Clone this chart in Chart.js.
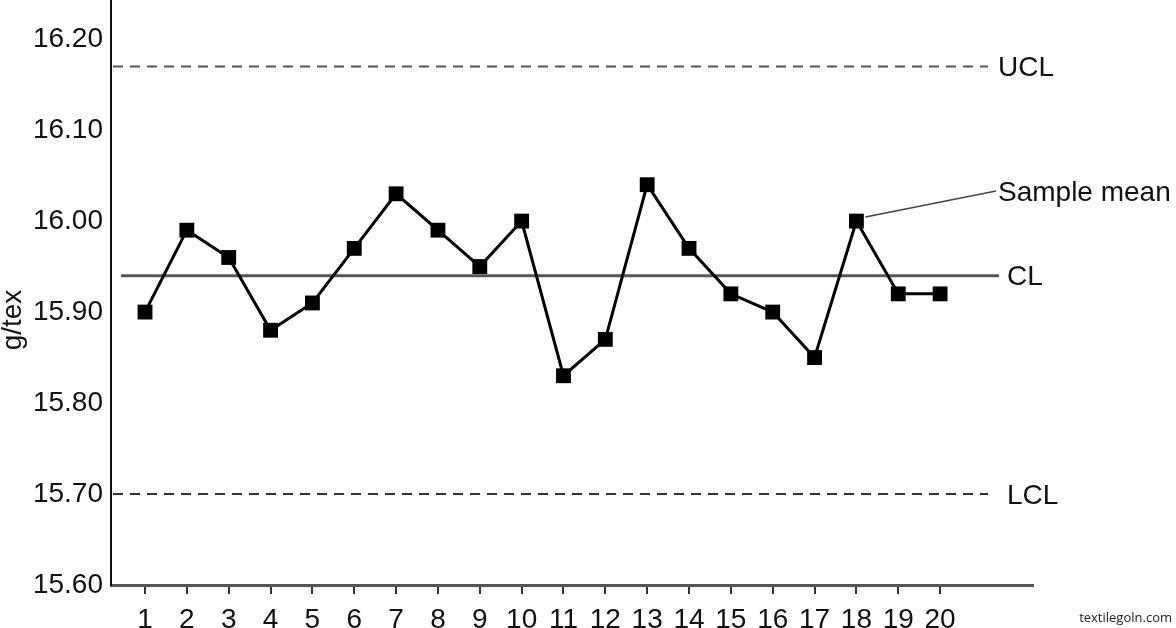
<!DOCTYPE html>
<html>
<head>
<meta charset="utf-8">
<style>
  html, body { margin: 0; padding: 0; background: #fff; }
</style>
<script src="https://cdn.jsdelivr.net/npm/chart.js@4.4.1/dist/chart.umd.min.js"></script>
</head>
<body>
<canvas id="chart" width="1176" height="628"></canvas>

<script>
  // Sample numbers on the x axis
  const samples = [1, 2, 3, 4, 5, 6, 7, 8, 9, 10, 11, 12, 13, 14, 15, 16, 17, 18, 19, 20];
  // Sample means (g/tex)
  const sampleMeans = [15.90, 15.99, 15.96, 15.88, 15.91, 15.97, 16.03, 15.99, 15.95, 16.00,
                       15.83, 15.87, 16.04, 15.97, 15.92, 15.90, 15.85, 16.00, 15.92, 15.92];
  // Control limits
  const limitNames = ['UCL', 'CL', 'LCL'];
  const limitValues = [16.17, 15.94, 15.70];
  // Tick labels on the y axis
  const yTicks = [15.60, 15.70, 15.80, 15.90, 16.00, 16.10, 16.20];

  const FONT = '"Liberation Sans", Arial, Helvetica, sans-serif';

  // Draws the control lines, their labels and the other annotations
  const controlLines = {
    id: 'controlLines',
    beforeDatasetsDraw(chart) {
      const { ctx, chartArea, scales: { y } } = chart;
      limitNames.forEach((name, i) => {
        const py = y.getPixelForValue(limitValues[i]);
        ctx.save();
        ctx.beginPath();
        if (name === 'CL') {
          ctx.strokeStyle = '#555';
          ctx.lineWidth = 3;
          ctx.moveTo(chartArea.left + 10, py);
          ctx.lineTo(chartArea.right - 34, py);
        } else {
          ctx.strokeStyle = name === 'UCL' ? '#555' : '#333';
          ctx.lineWidth = 2;
          ctx.setLineDash([10, 7]);
          ctx.moveTo(chartArea.left + 2, py);
          ctx.lineTo(chartArea.right - 45, py);
        }
        ctx.stroke();
        ctx.restore();
      });
    },
    afterDraw(chart) {
      const { ctx, chartArea, scales: { y } } = chart;
      ctx.save();
      ctx.fillStyle = '#111';
      ctx.font = '28px ' + FONT;
      ctx.textBaseline = 'middle';
      ctx.textAlign = 'left';
      limitNames.forEach((name, i) => {
        const py = y.getPixelForValue(limitValues[i]);
        const offset = name === 'UCL' ? 35 : 26;
        ctx.fillText(name, chartArea.right - offset, py + 2);
      });

      // "Sample mean" pointer to point 18
      const p = chart.getDatasetMeta(0).data[17];
      ctx.beginPath();
      ctx.strokeStyle = '#444';
      ctx.lineWidth = 1.5;
      ctx.moveTo(p.x + 9, p.y - 4);
      ctx.lineTo(chartArea.right - 37, 191);
      ctx.stroke();
      ctx.fillText('Sample mean', chartArea.right - 35, 193);

      // y axis title
      ctx.save();
      ctx.translate(13, 320);
      ctx.rotate(-Math.PI / 2);
      ctx.textAlign = 'center';
      ctx.fillText('g/tex', 0, 0);
      ctx.restore();

      // source note
      ctx.font = '13px "Open Sans", sans-serif';
      ctx.textAlign = 'right';
      ctx.fillStyle = '#222';
      ctx.fillText('textilegoln.com', 1172, 618);
      ctx.restore();
    }
  };

  const ctx = document.getElementById('chart').getContext('2d');
  new Chart(ctx, {
    type: 'line',
    data: {
      datasets: [{
        label: 'Sample mean',
        data: samples.map((s, i) => ({ x: s, y: sampleMeans[i] })),
        borderColor: '#000',
        borderWidth: 3,
        pointStyle: 'rect',
        pointRadius: 10.5,
        pointBackgroundColor: '#000',
        pointBorderWidth: 0,
        tension: 0,
        clip: false
      }]
    },
    options: {
      responsive: false,
      animation: false,
      layout: { autoPadding: false, padding: { left: 0, right: 143, top: 0, bottom: 0 } },
      scales: {
        x: {
          type: 'linear',
          min: 0.187,
          max: 22.22,
          afterBuildTicks: scale => { scale.ticks = samples.map(v => ({ value: v })); },
          afterFit: scale => { scale.height = 43; scale.paddingLeft = 0; scale.paddingRight = 0; },
          grid: { display: true, drawOnChartArea: false, drawTicks: true, tickLength: 9, color: '#333', lineWidth: 2 },
          border: { display: true, color: '#555', width: 3 },
          ticks: {
            padding: 9,
            color: '#111',
            font: { family: FONT, size: 28 },
            callback: v => String(v)
          }
        },
        y: {
          min: 15.60,
          max: 16.243,
          afterBuildTicks: scale => { scale.ticks = yTicks.map(v => ({ value: v })); },
          afterFit: scale => { scale.width = 111; scale.paddingTop = 0; scale.paddingBottom = 0; },
          grid: { display: false, drawTicks: false },
          border: { display: true, color: '#111', width: 2 },
          ticks: {
            padding: 8,
            color: '#111',
            font: { family: FONT, size: 28 },
            callback: v => v.toFixed(2)
          }
        }
      },
      plugins: {
        legend: { display: false },
        tooltip: { enabled: false }
      }
    },
    plugins: [controlLines]
  });
</script>
</body>
</html>
